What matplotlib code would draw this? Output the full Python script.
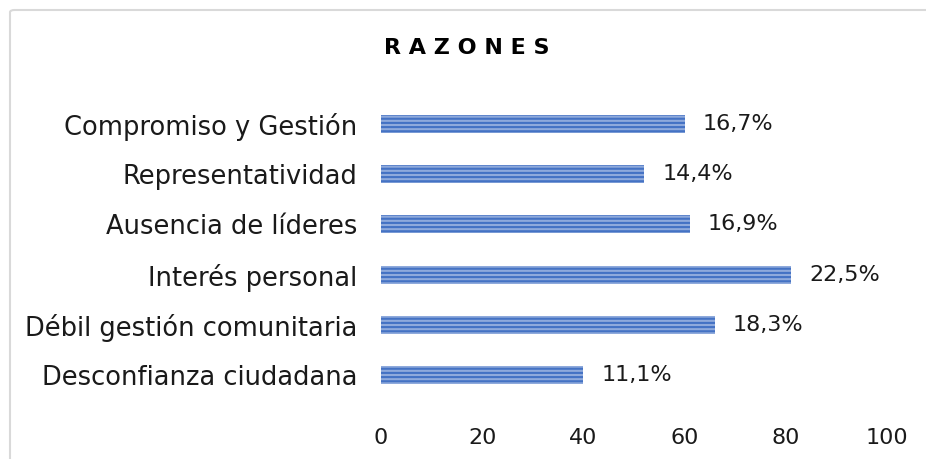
import matplotlib.pyplot as plt
from matplotlib.patches import FancyBboxPatch

# razones - barras horizontales con rayas
categorias = ["Desconfianza ciudadana", "Débil gestión comunitaria", "Interés personal",
              "Ausencia de líderes", "Representatividad", "Compromiso y Gestión"]
valores = [40, 66, 81, 61, 52, 60]
etiquetas = ["11,1%", "18,3%", "22,5%", "16,9%", "14,4%", "16,7%"]
ticks_x = [0, 20, 40, 60, 80, 100]

plt.rcParams["font.family"] = "DejaVu Sans"
plt.rcParams["hatch.linewidth"] = 1.5
plt.rcParams["hatch.color"] = "#4472C4"

fig = plt.figure(figsize=(9.26, 4.59), dpi=100)

# borde gris del gráfico
borde = FancyBboxPatch((10 / 926, -0.05), 1.2, 1.05 - 10 / 459,
                       boxstyle="round,pad=0,rounding_size=0.005",
                       transform=fig.transFigure, facecolor="none",
                       edgecolor="#D9D9D9", linewidth=1.5)
fig.patches.append(borde)

ax = fig.add_axes([381 / 926, 59 / 459, 506 / 926, 301 / 459])

ax.barh(categorias, valores, height=0.36, color="#8FAADC",
        edgecolor="#4472C4", linewidth=0, hatch="----")

for i, (v, txt) in enumerate(zip(valores, etiquetas)):
    ax.annotate(txt, (v, i), xytext=(13, 0), textcoords="offset points",
                va="center", ha="left", fontsize=16, color="#1a1a1a")

ax.set_xlim(0, 100)
ax.set_ylim(-0.5, 5.5)
ax.set_xticks(ticks_x)
for s in ax.spines.values():
    s.set_visible(False)
ax.tick_params(axis="both", length=0, colors="#1a1a1a")
ax.tick_params(axis="x", pad=20, labelsize=16)
ax.tick_params(axis="y", pad=17, labelsize=18.5)

fig.text(467 / 926, 1 - 48 / 459, "R A Z O N E S", ha="center", va="center",
         fontsize=16, fontweight="bold", color="black")

plt.savefig("out.png", dpi=100)
